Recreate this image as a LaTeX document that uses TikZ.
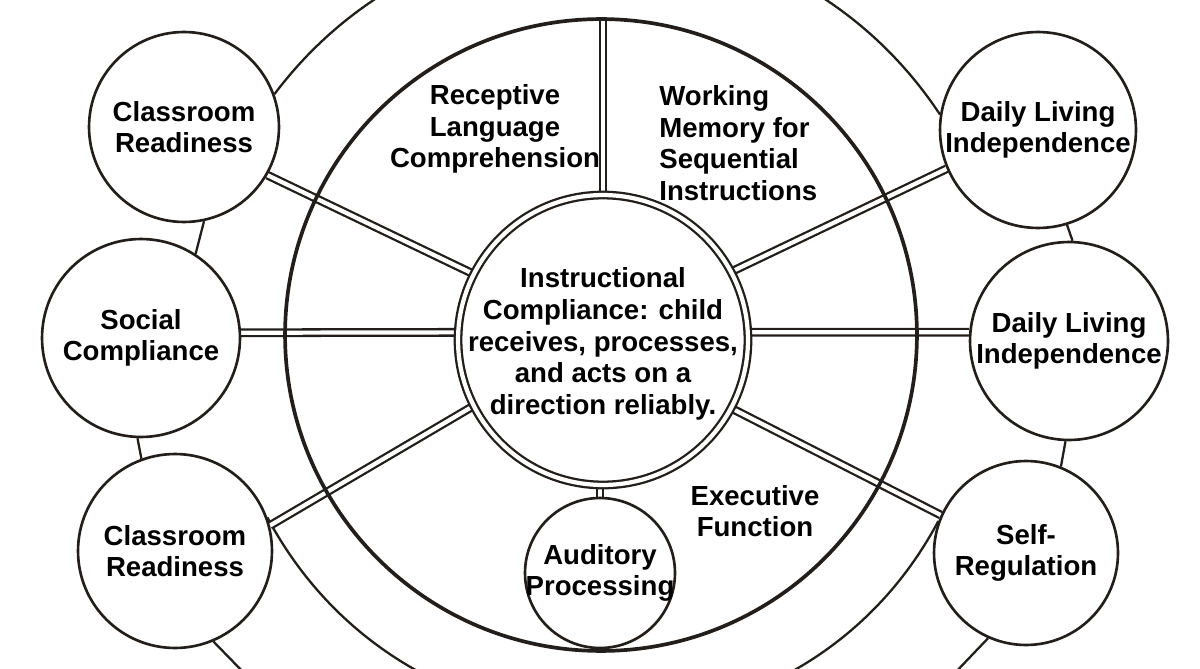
\documentclass[tikz,border=0pt]{standalone}
\usepackage{fontspec}
\setmainfont{Liberation Sans}
\usetikzlibrary{backgrounds}
\definecolor{ink}{RGB}{34,30,28}

\begin{document}
\begin{tikzpicture}[x=0.02cm,y=0.02cm,
  every node/.style={font=\bfseries\fontsize{15.7}{18}\selectfont,align=center,inner sep=0pt},
  sat/.style={circle,draw=ink,line width=1.5pt,fill=white,inner sep=-6pt,minimum size=#1},
  sat/.default=3.9cm,
  hub/.style={circle,draw=ink,line width=1.3pt,double=white,double distance=2.4pt,fill=white,minimum size=5.8cm},
  spoke/.style={draw=ink,line width=1.3pt,double=white,double distance=2.4pt},
  chain/.style={draw=ink,line width=1.3pt}]
\useasboundingbox (0,0) rectangle (1200,-669);
\clip (0,0) rectangle (1200,-669);

\node[circle,draw=ink,line width=2.1pt,minimum size=12.64cm] (ring) at (601,-335) {};
\node[hub] (core) at (603,-340) {};
\node (coretext) at (603,-344) {Instructional\\Compliance: child\\receives, processes,\\and acts on a\\direction reliably.};

\node[sat=3.8cm] (cr1) at (184,-127) {Classroom\\Readiness};
\node[sat=3.96cm] (sc) at (141,-338) {Social\\Compliance};
\node[sat=3.88cm] (cr2) at (175,-551) {Classroom\\Readiness};
\node[sat=3.92cm] (dl1) at (1038,-130) {Daily Living\\Independence};
\node[sat=3.96cm] (dl2) at (1069,-341) {Daily Living\\Independence};
\node[sat=3.68cm] (sr) at (1026,-553) {Self-\\Regulation};
\node[sat=3.0cm] (ap) at (600,-573) {Auditory\\Processing};

\node (rlc) at (495,-129) {Receptive\\Language\\Comprehension};
\node[align=left,anchor=west] (wm) at (659,-143) {Working\\Memory for\\Sequential\\Instructions};
\node (ef) at (755,-511) {Executive\\Function};

\coordinate (blfoot) at (247,-676);
\coordinate (srfoot) at (952,-676);

\begin{scope}[on background layer]
% outer chain
\draw[chain] (cr1.20) to[out=53,in=123.5,looseness=1.08] (dl1.171);
\draw[chain] (cr1.-78) -- (sc.57);
\draw[chain] (sc.-92) -- (cr2.110);
\draw[chain] (cr2.-67) -- (blfoot);
\draw[chain] (dl1.-73) -- (dl2.88);
\draw[chain] (dl2.-92) -- (sr.68);
\draw[chain] (sr.-114) -- (srfoot);
\draw[chain] (cr2.20) to[out=-62,in=242,looseness=1.15] (sr.160);
% spokes
\draw[spoke] (core.153) -- (cr1.-30);
\draw[spoke] (core.177) -- (sc.3);
\draw[spoke] (core.207) -- (cr2.15);
\draw[spoke] (core.28) -- (dl1.203);
\draw[spoke] (core.3) -- (dl2.175);
\draw[spoke] (core.-28) -- (sr.156);
\draw[spoke] (ap.north |- core.south) -- (ap.north);
\draw[spoke] (core.north) -- (core.north |- ring.north);
\end{scope}
\end{tikzpicture}
\end{document}
